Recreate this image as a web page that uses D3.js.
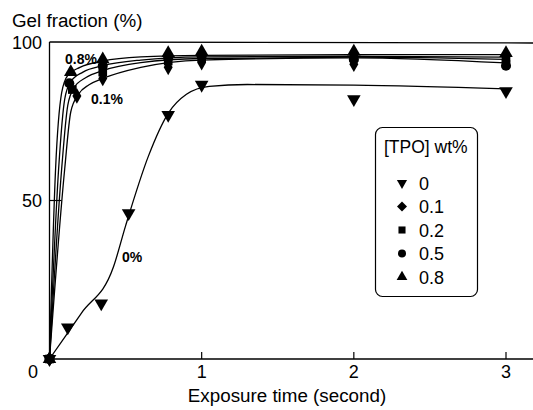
<!DOCTYPE html>
<html>
<head>
<meta charset="utf-8">
<script src="https://cdn.jsdelivr.net/npm/d3@7"></script>
<style>
  body { margin: 0; background: #fff; }
  text { font-family: "Liberation Sans", Arial, sans-serif; fill: #000; }
</style>
</head>
<body>
<svg width="533" height="410"></svg>
<script>
// measured points, [time (s), gel fraction (%)]
const tpo0 = [[0, 0], [0.12, 10], [0.34, 17.5], [0.52, 46], [0.78, 77], [1, 86.5], [2, 82], [3, 84.5]];
const tpo01 = [[0, 0], [0.18, 83], [0.35, 88.5], [0.78, 92], [1, 93.5], [2, 93], [3, 94]];
const tpo02 = [[0, 0], [0.15, 85], [0.35, 90.5], [0.78, 94], [1, 95], [2, 95], [3, 94.5]];
const tpo05 = [[0, 0], [0.13, 87], [0.35, 92.5], [0.78, 95], [1, 95.5], [2, 94.5], [3, 92.5]];
const tpo08 = [[0, 0], [0.14, 90.5], [0.35, 94.5], [0.78, 96.5], [1, 97], [2, 97], [3, 96.5]];

// fitted curves
const fit0 = [[0, 0], [0.21, 14.5], [0.42, 29], [0.5, 42], [0.65, 64], [0.78, 77.5], [0.9, 83.5], [1.05, 86], [1.3, 86.6], [2, 86.4], [3, 85.2]];
const fit01 = [[0, 0], [0.1, 60], [0.14, 78], [0.19, 83.5], [0.26, 86.5], [0.35, 88.5], [0.6, 92], [1, 94.3], [2, 95], [3, 93.4]];
const fit02 = [[0, 0], [0.08, 60], [0.12, 80], [0.16, 85.5], [0.24, 88.8], [0.35, 91], [0.6, 93.5], [1, 94.8], [2, 95.2], [3, 94.5]];
const fit05 = [[0, 0], [0.06, 60], [0.1, 82], [0.14, 87.5], [0.22, 90.5], [0.35, 92.5], [0.6, 94.3], [1, 95.3], [2, 95.5], [3, 95.2]];
const fit08 = [[0, 0], [0.04, 60], [0.08, 84], [0.12, 89.5], [0.2, 92], [0.35, 94], [0.6, 95.3], [1, 95.8], [2, 96], [3, 96]];

const xTicks = [1, 2, 3];
const yTicks = [50, 100];
const legendLabels = ['0', '0.1', '0.2', '0.5', '0.8'];

const svg = d3.select('svg');

const x = d3.scaleLinear().domain([0, 3]).range([49.5, 506]);
const y = d3.scaleLinear().domain([0, 100]).range([359, 42]);

// frame: left axis, bottom axis, top line (open to the right)
svg.append('line').attr('x1', x(0)).attr('x2', x(0)).attr('y1', y(0)).attr('y2', y(100))
  .attr('stroke', 'black').attr('stroke-width', 1.3);
svg.append('line').attr('x1', x(0)).attr('x2', 533).attr('y1', y(0)).attr('y2', y(0))
  .attr('stroke', 'black').attr('stroke-width', 1.3);
svg.append('line').attr('x1', x(0)).attr('x2', 533).attr('y1', y(100)).attr('y2', y(100) + 1)
  .attr('stroke', 'black').attr('stroke-width', 1.3);

// ticks pointing inward
svg.selectAll('.xt').data(xTicks).join('line')
  .attr('x1', d => x(d)).attr('x2', d => x(d))
  .attr('y1', y(0)).attr('y2', y(0) - 7)
  .attr('stroke', 'black').attr('stroke-width', 1.2);
svg.selectAll('.yt').data([50]).join('line')
  .attr('x1', x(0)).attr('x2', x(0) + 12)
  .attr('y1', d => y(d)).attr('y2', d => y(d))
  .attr('stroke', 'black').attr('stroke-width', 1.2);

svg.selectAll('.xl').data(xTicks).join('text')
  .attr('x', d => x(d)).attr('y', 378)
  .attr('text-anchor', 'middle').attr('font-size', 18)
  .text(d => d);
svg.append('text').attr('x', 33).attr('y', 378)
  .attr('text-anchor', 'middle').attr('font-size', 18).text('0');
svg.selectAll('.yl').data(yTicks).join('text')
  .attr('x', 42).attr('y', d => y(d) + 6.5)
  .attr('text-anchor', 'end').attr('font-size', 18)
  .text(d => d);

svg.append('text').attr('x', 12).attr('y', 27).attr('font-size', 18.8).text('Gel fraction (%)');
svg.append('text').attr('x', 287).attr('y', 402).attr('text-anchor', 'middle')
  .attr('font-size', 18.8).text('Exposure time (second)');

// fitted curves
const line = d3.line().x(d => x(d[0])).y(d => y(d[1])).curve(d3.curveMonotoneX);
[fit0, fit01, fit02, fit05, fit08].forEach(f => {
  svg.append('path').attr('d', line(f))
    .attr('fill', 'none').attr('stroke', 'black').attr('stroke-width', 1.3);
});

// markers
const series = [
  { data: tpo01, type: d3.symbolDiamond, size: 70, rot: 0 },
  { data: tpo02, type: d3.symbolSquare, size: 75, rot: 0 },
  { data: tpo05, type: d3.symbolCircle, size: 80, rot: 0 },
  { data: tpo08, type: d3.symbolTriangle, size: 80, rot: 0 },
  { data: tpo0, type: d3.symbolTriangle, size: 80, rot: 180 }
];
series.forEach(s => {
  svg.append('g').selectAll('path').data(s.data).join('path')
    .attr('d', d3.symbol().type(s.type).size(s.size))
    .attr('transform', d => `translate(${x(d[0])},${y(d[1])}) rotate(${s.rot})`)
    .attr('fill', 'black');
});

// in-plot labels
svg.append('text').attr('x', 65).attr('y', 64).attr('font-size', 14).attr('font-weight', 'bold').text('0.8%');
svg.append('text').attr('x', 91).attr('y', 104).attr('font-size', 14).attr('font-weight', 'bold').text('0.1%');
svg.append('text').attr('x', 122).attr('y', 262).attr('font-size', 14).attr('font-weight', 'bold').text('0%');

// legend
const lg = svg.append('g');
lg.append('rect').attr('x', 375.5).attr('y', 127.5).attr('width', 102).attr('height', 169)
  .attr('rx', 7).attr('fill', 'white').attr('stroke', 'black').attr('stroke-width', 1.2);
lg.append('text').attr('x', 384).attr('y', 153).attr('font-size', 17.5).text('[TPO] wt%');
const legSyms = [
  { type: d3.symbolTriangle, size: 45, rot: 180 },
  { type: d3.symbolSquare, size: 50, rot: 45 },
  { type: d3.symbolSquare, size: 50, rot: 0 },
  { type: d3.symbolCircle, size: 50, rot: 0 },
  { type: d3.symbolTriangle, size: 50, rot: 0 }
];
legendLabels.forEach((lab, i) => {
  const cy = 183 + i * 23.5;
  lg.append('path').attr('d', d3.symbol().type(legSyms[i].type).size(legSyms[i].size))
    .attr('transform', `translate(402,${cy}) rotate(${legSyms[i].rot})`).attr('fill', 'black');
  lg.append('text').attr('x', 419).attr('y', cy + 6.5).attr('font-size', 18).text(lab);
});
</script>
</body>
</html>
